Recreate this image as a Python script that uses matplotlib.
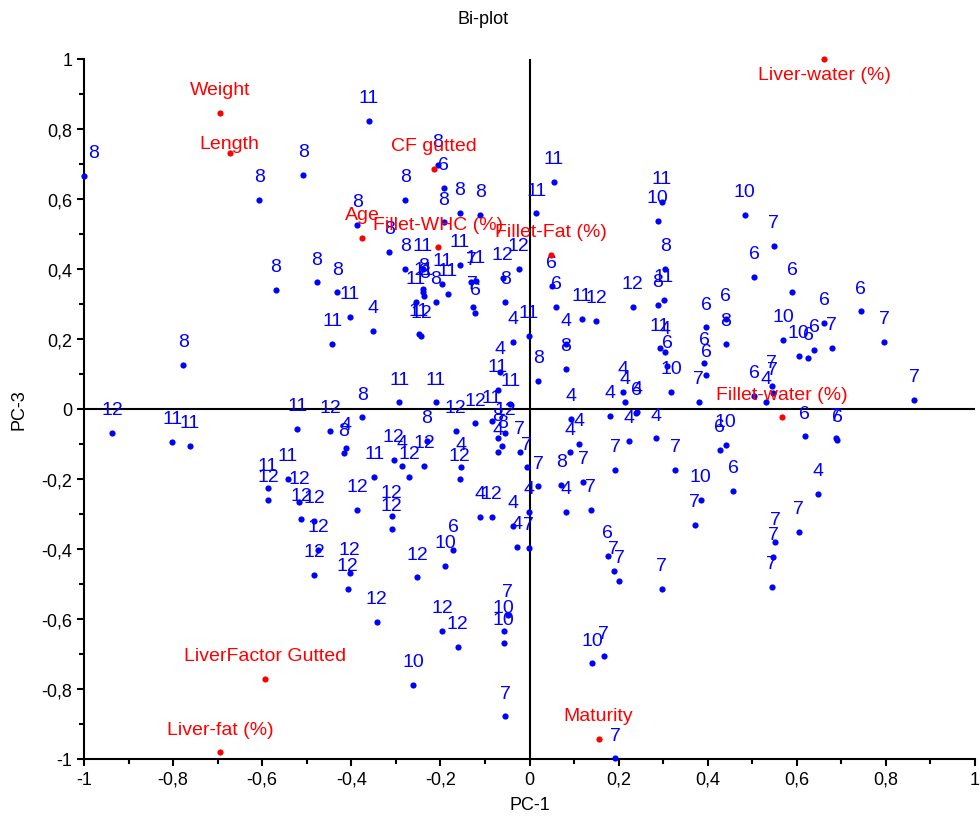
import matplotlib
matplotlib.use("Agg")
import matplotlib.pyplot as plt
from matplotlib.ticker import MultipleLocator, FuncFormatter

plt.rcParams['font.family'] = ['Liberation Sans', 'DejaVu Sans']

# ---- observations (scores) ----
obs_labels = [
    "8", "8", "8", "8", "11", "8", "6", "8", "8", "8", "8", "8", "8", "8", "8", "8",
    "12", "11", "11", "11", "10", "10", "6", "6", "11", "12", "12", "8", "11", "8",
    "7", "6", "6", "6", "6", "7", "7", "10", "10", "6", "6", "7", "7", "6", "4", "7",
    "6", "7", "6", "4", "7", "7", "7", "7", "11", "4", "8", "8", "6", "6", "8", "11",
    "4", "6", "10", "6", "6", "7", "4", "4", "4", "6", "4", "4", "4", "4", "7", "7",
    "10", "6", "6", "10", "7", "4", "4", "8", "4", "7", "7", "7", "4", "7", "7", "4",
    "7", "6", "7", "7", "7", "7", "10", "7", "12", "12", "12", "12", "12", "12", "10",
    "6", "12", "12", "12", "7", "10", "10", "10", "7", "4", "4", "11", "11", "12", "12",
    "11", "8", "8", "4", "12", "11", "11", "8", "12", "4", "8", "8", "12", "4", "12",
    "11", "12", "4", "12", "12", "12", "4", "12", "12", "12", "12", "12", "11", "11",
    "11", "11", "12", "11", "8", "11", "4", "11", "4", "11", "12", "12", "8", "7", "6",
    "11", "8", "11", "11", "8", "8", "11", "11", "11", "7", "11",
]
pc1 = [
    -1.000, -0.607, -0.508, -0.570, -0.361, -0.206, -0.193, -0.279, -0.157, -0.110,
    -0.192, -0.387, -0.315, -0.279, -0.478, -0.431,
    -0.024, 0.055, 0.015, 0.297, 0.288, 0.483, 0.050, 0.060, 0.118, 0.150, 0.232,
    0.288, 0.301, 0.305,
    0.548, 0.505, 0.590, 0.743, 0.661, 0.678, 0.796, 0.569, 0.604, 0.626, 0.639,
    0.544, 0.546, 0.504, 0.530, 0.863,
    0.618, 0.687, 0.691, 0.648, 0.604, 0.552, 0.547, 0.544, -0.002, 0.081, 0.081,
    0.020, 0.397, 0.440, 0.440, 0.292,
    0.305, 0.309, 0.318, 0.392, 0.397, 0.380, 0.094, 0.210, 0.215, 0.240, 0.241,
    0.180, 0.223, 0.285, 0.193, 0.327,
    0.440, 0.427, 0.457, 0.384, 0.371, 0.112, 0.090, 0.071, 0.081, 0.120, 0.137,
    0.019, -0.002, -0.006, -0.022, -0.027,
    -0.002, 0.176, 0.189, 0.202, 0.297, 0.167, 0.141, 0.193, -0.309, -0.474, -0.483,
    -0.404, -0.408, -0.252, -0.189,
    -0.171, -0.343, -0.196, -0.161, -0.049, -0.058, -0.058, -0.261, -0.054, -0.038,
    -0.067, -0.071, -0.043, -0.054, -0.122,
    -0.085, -0.071, -0.061, -0.070, -0.166, -0.210, -0.292, -0.375, -0.447, -0.412,
    -0.417, -0.230, -0.305, -0.287, -0.236,
    -0.348, -0.270, -0.153, -0.157, -0.387, -0.309, -0.110, -0.085, -0.517, -0.513,
    -0.483, -0.937, -0.802, -0.763,
    -0.521, -0.587, -0.587, -0.543, -0.777, -0.404, -0.352, -0.443, -0.038, -0.249,
    -0.243, -0.060, -0.054, -0.127, -0.122,
    -0.240, -0.238, -0.238, -0.255, -0.236, -0.210, -0.196, -0.183, -0.157, -0.131,
    -0.120,
]
pc3 = [
    0.665, 0.598, 0.669, 0.340, 0.824, 0.698, 0.631, 0.598, 0.560, 0.554, 0.533,
    0.527, 0.449, 0.400, 0.362, 0.333,
    0.400, 0.648, 0.559, 0.592, 0.538, 0.554, 0.351, 0.291, 0.257, 0.251, 0.291,
    0.297, 0.311, 0.400,
    0.466, 0.378, 0.333, 0.279, 0.246, 0.174, 0.191, 0.197, 0.152, 0.146, 0.169,
    0.066, 0.046, 0.038, 0.021, 0.027,
    -0.078, -0.084, -0.089, -0.243, -0.352, -0.381, -0.424, -0.508, 0.208, 0.186,
    0.114, 0.081, 0.233, 0.257, 0.186, 0.173,
    0.164, 0.124, 0.048, 0.131, 0.097, 0.021, -0.029, 0.048, 0.021, -0.012, -0.008,
    -0.019, -0.091, -0.084, -0.173, -0.173,
    -0.102, -0.117, -0.233, -0.259, -0.331, -0.100, -0.124, -0.217, -0.293, -0.209,
    -0.288, -0.221, -0.293, -0.167, -0.123, -0.393,
    -0.397, -0.419, -0.464, -0.491, -0.514, -0.707, -0.727, -0.998, -0.343, -0.403,
    -0.474, -0.469, -0.514, -0.481, -0.448,
    -0.403, -0.608, -0.635, -0.679, -0.588, -0.635, -0.669, -0.789, -0.878, -0.333,
    0.105, 0.055, 0.014, -0.069, -0.041,
    -0.035, -0.084, -0.105, -0.124, -0.062, 0.019, 0.019, -0.024, -0.062, -0.112,
    -0.127, -0.091, -0.145, -0.162, -0.162,
    -0.193, -0.195, -0.167, -0.200, -0.288, -0.305, -0.309, -0.309, -0.265, -0.314,
    -0.319, -0.068, -0.095, -0.106,
    -0.056, -0.227, -0.260, -0.200, 0.125, 0.263, 0.224, 0.186, 0.191, 0.214, 0.208,
    0.374, 0.305, 0.291, 0.274,
    0.400, 0.343, 0.333, 0.305, 0.324, 0.305, 0.357, 0.329, 0.411, 0.362, 0.367,
]

# ---- variables (loadings) ----
var_names = ["Weight", "Length", "CF gutted", "Age", "Fillet-WHC (%)",
             "Fillet-Fat (%)", "Liver-water (%)", "Fillet-water (%)",
             "LiverFactor Gutted", "Liver-fat (%)", "Maturity"]
var_pc1 = [-0.694, -0.673, -0.214, -0.375, -0.205, 0.049, 0.661, 0.566,
           -0.594, -0.694, 0.155]
var_pc3 = [0.846, 0.731, 0.686, 0.489, 0.462, 0.440, 1.000, -0.024,
           -0.771, -0.981, -0.943]

BLUE = "#0000ff"
RED = "#ff0000"

fig = plt.figure(figsize=(9.8, 8.2), dpi=100)
ax = fig.add_axes([84 / 980, 60 / 820, 891 / 980, 700 / 820])

ax.set_xlim(-1, 1)
ax.set_ylim(-1, 1)

# zero lines
ax.axhline(0, color="black", lw=1.5, zorder=1)
ax.axvline(0, color="black", lw=1.5, zorder=1)

# observations
ax.scatter(pc1, pc3, s=20, color=BLUE, zorder=3, clip_on=False, linewidths=0)
for lab, x, y in zip(obs_labels, pc1, pc3):
    dx = 7 if x <= -0.99 else 0
    ax.annotate(lab, (x, y), xytext=(dx, 13.5), textcoords="offset points",
                ha="center", va="baseline", color=BLUE, fontsize=14,
                zorder=4, annotation_clip=False)

# variables
special_offsets = {"Length": 3.5, "Liver-water (%)": -14.5}
ax.scatter(var_pc1, var_pc3, s=20, color=RED, zorder=5, clip_on=False, linewidths=0)
for name, x, y in zip(var_names, var_pc1, var_pc3):
    off = special_offsets.get(name, 13.5)
    ax.annotate(name, (x, y), xytext=(0, off), textcoords="offset points",
                ha="center", va="baseline", color=RED, fontsize=14,
                zorder=6, annotation_clip=False)

# spines
for s in ["top", "right"]:
    ax.spines[s].set_visible(False)
for s in ["left", "bottom"]:
    ax.spines[s].set_linewidth(1.5)

fmt = FuncFormatter(lambda v, p: ("%g" % round(v, 1)).replace(".", ",") if abs(v) > 1e-9 else "0")
ax.xaxis.set_major_locator(MultipleLocator(0.2))
ax.yaxis.set_major_locator(MultipleLocator(0.2))
ax.xaxis.set_minor_locator(MultipleLocator(0.1))
ax.yaxis.set_minor_locator(MultipleLocator(0.1))
ax.xaxis.set_major_formatter(fmt)
ax.yaxis.set_major_formatter(fmt)
ax.tick_params(which="major", length=5, width=1.5, labelsize=13, direction="out")
ax.tick_params(which="minor", length=3.5, width=1.5, direction="out")

ax.set_xlabel("PC-1", fontsize=13, labelpad=6)
ax.set_ylabel("PC-3", fontsize=13, labelpad=10)
fig.text(483 / 980, 1 - 20 / 820, "Bi-plot", ha="center", va="center", fontsize=13)

fig.savefig("out.png", dpi=100)
